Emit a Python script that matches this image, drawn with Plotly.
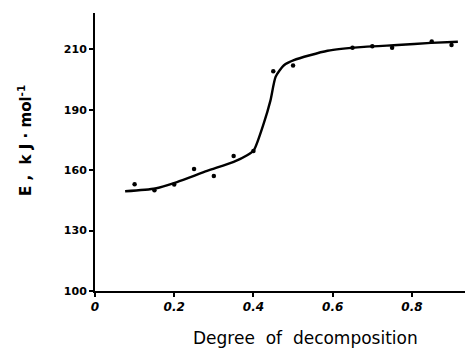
import numpy as np
import plotly.graph_objects as go

# Tick labels as printed on the y axis (evenly spaced on the page)
y_tick_labels = [100, 130, 160, 190, 210]
x_tick_vals = [0, 0.2, 0.4, 0.6, 0.8]
x_tick_text = ["0", "0.2", "0.4", "0.6", "0.8"]

# Measured points: degree of decomposition vs E (kJ/mol)
pts_x = [0.10, 0.15, 0.20, 0.25, 0.30, 0.35, 0.40, 0.45, 0.50, 0.65, 0.70, 0.75, 0.85, 0.90]
pts_E = [153.0, 150.0, 152.9, 160.6, 157.1, 167.0, 169.5, 202.7, 204.6, 210.5, 211.0, 210.5, 212.6, 211.4]

# Smooth fitted curve
curve_x = [0.076, 0.152, 0.207, 0.283, 0.350, 0.384, 0.401, 0.426, 0.443, 0.456, 0.477, 0.502, 0.587, 0.679, 0.764, 0.848, 0.916]
curve_E = [149.5, 150.9, 154.1, 159.6, 164.1, 167.4, 169.9, 183.2, 193.1, 200.9, 204.7, 206.4, 209.5, 210.8, 211.4, 212.1, 212.5]


def to_axis(v):
    """Map printed E values onto the evenly spaced printed tick positions."""
    v = np.asarray(v, dtype=float)
    idx = np.interp(v, y_tick_labels, np.arange(len(y_tick_labels)))
    top = y_tick_labels[-1]
    step = y_tick_labels[-1] - y_tick_labels[-2]
    return np.where(v > top, len(y_tick_labels) - 1 + (v - top) / step, idx)


fig = go.Figure()
fig.add_trace(go.Scatter(
    x=curve_x, y=to_axis(curve_E), mode="lines",
    line=dict(color="black", width=2.4, shape="spline", smoothing=0.6),
    hoverinfo="skip", showlegend=False))
fig.add_trace(go.Scatter(
    x=pts_x, y=to_axis(pts_E), mode="markers",
    marker=dict(color="black", size=4.5),
    showlegend=False))

fig.update_layout(
    width=467, height=355,
    margin=dict(l=95, r=2, t=13, b=64),
    paper_bgcolor="white", plot_bgcolor="white",
    font=dict(family="DejaVu Sans", color="black"),
    xaxis=dict(
        range=[0, 0.934], showgrid=False, zeroline=False,
        showline=True, linecolor="black", linewidth=2,
        tickmode="array", tickvals=x_tick_vals, ticktext=x_tick_text,
        ticks="outside", ticklen=4, tickwidth=1.5, tickcolor="black",
        tickfont=dict(size=12, family="DejaVu Sans", style="italic", weight="bold"),
    ),
    yaxis=dict(
        range=[0, 4.6], showgrid=False, zeroline=False,
        showline=True, linecolor="black", linewidth=2,
        tickmode="array", tickvals=list(range(len(y_tick_labels))),
        ticktext=[str(t) for t in y_tick_labels],
        ticks="outside", ticklen=4, tickwidth=1.5, tickcolor="black",
        tickfont=dict(size=11, family="DejaVu Sans", weight="bold"),
    ),
    annotations=[
        dict(text="Degree  of  decomposition", xref="paper", yref="paper",
             x=(305 - 95) / 370, y=-(338 - 291) / 278, xanchor="center", yanchor="middle",
             showarrow=False, font=dict(size=17, family="DejaVu Sans")),
        dict(text="E ,  k J · mol<sup>-1</sup>", xref="paper", yref="paper",
             x=-(95 - 25) / 370, y=(291 - 141) / 278, xanchor="center", yanchor="middle",
             textangle=-90, showarrow=False,
             font=dict(size=15, family="DejaVu Sans", weight="bold")),
    ],
)

fig.write_html("out.html")
